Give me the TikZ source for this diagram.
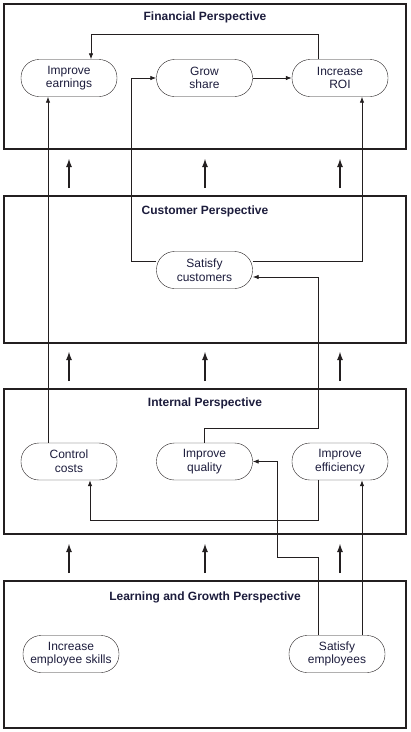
\documentclass[tikz,border=0pt]{standalone}
\usepackage{fontspec}
\setmainfont{Liberation Sans}
\usepackage{tikz}
\usetikzlibrary{arrows.meta,positioning,calc}
\definecolor{ink}{HTML}{231F20}
\definecolor{navy}{HTML}{1C1C3C}
\colorlet{txt}{navy}

\begin{document}
\begin{tikzpicture}[x=1pt,y=-1pt,font=\fontsize{12}{13.6}\selectfont,
              panel/.style={draw=ink,line width=2pt},
              ttl/.style={text=txt,font=\fontsize{12}{14}\selectfont\bfseries},
              goal/.style={draw=ink,rounded corners=18pt,minimum width=96pt,minimum height=37pt,
                           inner sep=6pt,align=center,text=txt},
              link/.style={ink,line width=0.8pt,-{Latex[length=6pt,width=4.5pt]}},
              up/.style={ink,line width=1.9pt,-{Latex[length=9pt,width=6pt]}}]
              \useasboundingbox (0,0) rectangle (411,732);
              % perspectives
              \draw[panel] (4,4) rectangle (406,149);
              \draw[panel] (4,196) rectangle (406,343);
              \draw[panel] (4,389) rectangle (406,534);
              \draw[panel] (4,581) rectangle (406,728);
              \node[ttl] (tfin) at (205,17) {Financial Perspective};
              \node[ttl] (tcus) at (205,211) {Customer Perspective};
              \node[ttl] (tint) at (205,403) {Internal Perspective};
              \node[ttl] (tlrn) at (205,597) {Learning and Growth Perspective};
              % objectives
              \node[goal] (earn) at (69,78) {Improve\\earnings};
              \node[goal] (grow) at (204.5,78) {Grow\\share};
              \node[goal] (roi) at (340,78) {Increase\\ROI};
              \node[goal] (satc) at (204.5,270) {Satisfy\\customers};
              \node[goal] (cost) at (69,461.5) {Control\\costs};
              \node[goal] (qual) at (204.5,461.5) {Improve\\quality};
              \node[goal] (effi) at (340,461.5) {Improve\\efficiency};
              \node[goal] (skill) at (71,654) {Increase\\employee skills};
              \node[goal] (sate) at (337,654) {Satisfy\\employees};
              % links
              \draw[link] ([xshift=-22pt]roi.north) -- ++(0,-25) -| ([xshift=22pt]earn.north);
              \draw[link] (grow) -- (roi);
              \draw[link] ([yshift=9pt]satc.west) -- ++(-25,0) |- (grow.west);
              \draw[link] ([yshift=9pt]satc.east) -| ([xshift=22pt]roi.south);
              \draw[link] ([xshift=-21pt]cost.north) -- ([xshift=-21pt]earn.south);
              \draw[link] (qual.north) -- ++(0,-14) -- ++(114,0) |- ([yshift=-7pt]satc.east);
              \draw[link] ([xshift=-22pt]effi.south) -- ++(0,40) -| ([xshift=21pt]cost.south);
              \draw[link] ([xshift=-19pt]sate.north) -- ++(0,-78) -- ++(-41,0) |- (qual.east);
              \draw[link] ([xshift=22pt]effi.south |- sate.north) -- ([xshift=22pt]effi.south);
              \foreach \x in {69,205,340}
                \foreach \y in {188,381,573}
                  \draw[up] (\x,\y) -- ++(0,-30);
            \end{tikzpicture}
\end{document}
